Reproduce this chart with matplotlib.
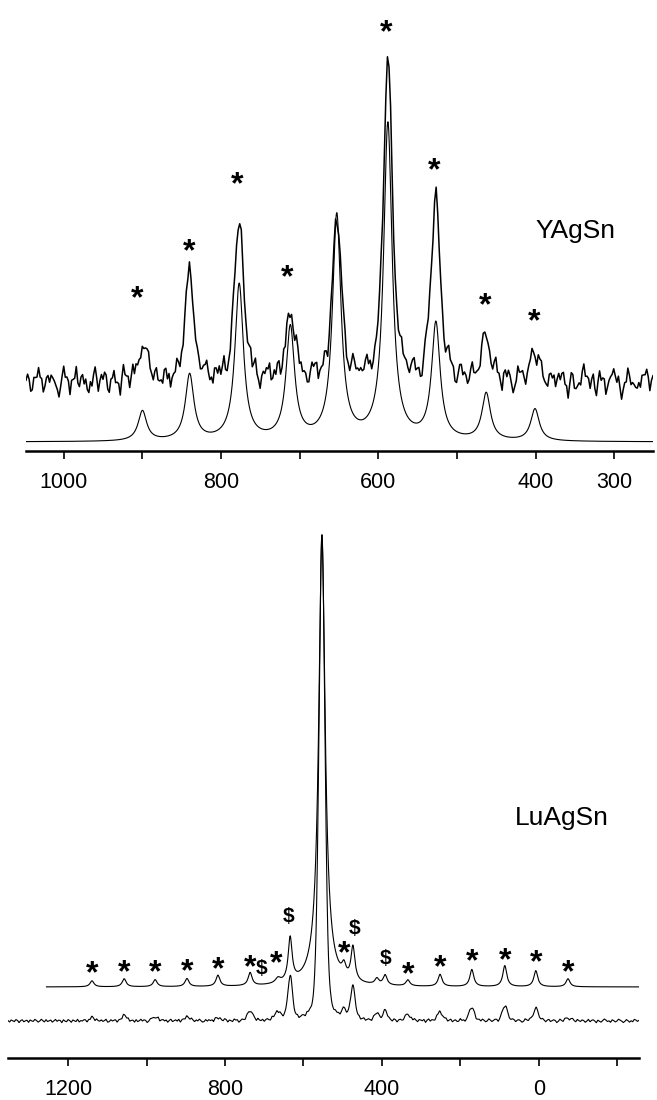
import numpy as np
import matplotlib
matplotlib.use("Agg")
import matplotlib.pyplot as plt

plt.rcParams['font.family'] = ['Liberation Sans', 'DejaVu Sans']

# ---- YAgSn (top panel): sideband positions (ppm) and heights
yag_pos = [900, 840, 777, 712, 653, 588, 527, 463, 401]
yag_sim_h = [30, 66, 156, 112, 224, 316, 116, 47, 32]
yag_exp_h = [34, 104, 160, 68, 160, 318, 180, 46, 28]
yag_sim_base = 9
yag_exp_base = 68
yag_stars_x = [907, 841, 779, 716, 590, 529, 464, 402]
yag_stars_y = [162, 209, 276, 183, 428, 290, 155, 139]
yag_ticks = [1000, 900, 800, 700, 600, 500, 400, 300]
yag_ticklabels = ['1000', '', '800', '', '600', '', '400', '300']

# ---- LuAgSn (bottom panel)
lu_pos = [1139, 1057, 978, 897, 818, 736, 665, 634, 553, 497, 474, 413, 392, 334, 252, 171, 87, 8, -74]
lu_sim_h = [6, 8, 7, 8, 11, 13, 5, 44, 448, 11, 34, 6, 10, 6, 12, 17, 21, 16, 8]
lu_sim_w = [6, 6, 6, 6, 6, 6, 8, 6, 10, 6, 6, 6, 6, 6, 6, 6, 6, 6, 6]
lu_exp_h = [3, 5, 4, 4, 3, 10, 8, 44, 486, 8, 33, 7, 9, 6, 9, 13, 15, 12, 3]
lu_exp_w = [8, 8, 8, 8, 8, 8, 10, 7, 9, 8, 7, 7, 7, 8, 8, 8, 8, 8, 8]
lu_sim_base = 71
lu_exp_base = 37
lu_stars_x = [1139, 1057, 978, 897, 818, 736, 669, 497, 334, 252, 171, 87, 8, -74]
lu_stars_y = [94, 95, 95, 96, 98, 100, 104, 114, 93, 100, 106, 107, 105, 95]
lu_dollar_x = [637, 706, 471, 392]
lu_dollar_y = [143, 91, 131, 101]
lu_ticks = [1200, 1000, 800, 600, 400, 200, 0, -200]
lu_ticklabels = ['1200', '', '800', '', '400', '', '0', '']

# baseline noise of the measured spectra (hand read, arbitrary units)
noise_a = [3, -2, 5, 8, -4, 1, -6, 2, 7, -3, -8, 0, 4, 9, -1, -5, 2, 6, -7, 1,
           -3, 5, 10, 2, -6, -2, 4, -9, 0, 6, 3, -4, 8, -1, -7, 2, 5, -3, 1, 7,
           -5, 0, 9, 4, -8, -2, 3, 6, -6, 1, 8, -3, -9, 2, 5, 0, -4, 7, 3, -6,
           2, 8, -1, -5, 4, 10, -3, -7, 1, 6, -2, 3, 9, -4, -8, 0, 5, 2, -6, 4,
           7, -1, -4, 3, 8, -7, 0, 5, -2, -9, 4, 6, 1, -5, 3, 9, -2, -6, 2, 7,
           -3, 4, 0, -8, 5, 2, -4, 8, 6, -1, -7, 3, 0, 10, -3, -5, 4, 1, -6, 7,
           2, -4, 9, 3, -2, -8, 5, 1, 7, -5, 0, 4, -3, 8, 2, -9, 6, -1, 3, 5,
           -6, 1, 8, -2, 4, -7, 0, 6, 9, -4, -1, 5, 2, -8, 3, 7, -5, 0, 4, -3,
           6, 10, -2, -6, 1, 5, -4, 3, 8, -7, -1, 4, 0, -5, 7, 2, -3, 9, 1, -8,
           0, 5, -3, 7, 2, -6, 4, 8, -2, -9, 3, 1, 6, -4, -1, 9, 5, -7, 2, 4]
noise_b = [-4, 6, 1, -7, 3, 9, -2, -5, 4, 0, 7, -8, 2, 5, -1, -6, 8, 3, -3, 1,
           6, -9, -2, 4, 8, -4, 0, 3, -6, 7, 1, -2, 9, -5, -1, 6, 2, -7, 4, -3,
           0, 8, -6, 2, 5, -1, -8, 3, 7, -4, 1, 6, -2, -9, 4, 2, 8, -5, 0, 3,
           -7, 5, 9, -3, -1, 4, -6, 2, 7, -8, 3, 0, 5, -2, 6, -4, -7, 1, 8, -1,
           4, -5, 2, 9, -3, 0, 6, -6, 1, 3, -8, 7, -2, 5, 0, -4, 8, 2, -7, 4,
           -1, 6, 3, -5, 9, -2, -6, 1, 4, 7, -3, -9, 2, 5, -1, 8, 0, -4, 6, -7,
           3, 1, -5, 7, -2, 4, 9, -6, 0, 2, -8, 5, 3, -1, 6, -4, -7, 8, 1, -3,
           5, -2, 0, 7, -6, 3, 9, -4, 1, -8, 4, 6, -1, 2, -5, 8, -3, 0, 5, -7,
           2, 7, -4, -1, 6, -9, 3, 4, -2, 8, 0, -6, 5, 1, -3, 7, -5, 2, 9, -1,
           -6, 3, 8, -2, 0, 5, -7, 4, 1, -4, 6, 2, -8, 3, 7, -3, 0, 5, -5, 2]
noise = noise_a + noise_b


def pv(x, pos, h, w, eta):
    # pseudo-voigt sum, w = half width at half max
    y = np.zeros_like(x)
    for p, a, g in zip(pos, h, w):
        lor = g ** 2 / ((x - p) ** 2 + g ** 2)
        gau = np.exp(-np.log(2) * (x - p) ** 2 / g ** 2)
        y += a * (eta * lor + (1 - eta) * gau)
    return y


fig = plt.figure(figsize=(6.57, 11), dpi=100)

# ---------------- top panel
ax1 = fig.add_axes([26 / 657, 649 / 1100, 627 / 657, 451 / 1100])
x = np.linspace(1048, 251, 3000)
sim = yag_sim_base + pv(x, yag_pos, yag_sim_h, [6.5] * len(yag_pos), 1.0)
xe = np.linspace(1048, 251, len(noise))
slow = np.interp(xe, np.linspace(251, 1048, len(noise_a)), np.array(noise_a, float))
fast = np.array(noise_b + noise_a, float)
exp = (yag_exp_base + pv(xe, yag_pos, yag_exp_h, [7] * len(yag_pos), 0.6)
       + 1.35 * slow + 0.75 * fast)
ax1.plot(x, sim, color='black', lw=0.8)
ax1.plot(xe, exp, color='black', lw=1.1)
for sx, sy in zip(yag_stars_x, yag_stars_y):
    ax1.annotate('*', (sx, sy), xytext=(0, -0.56 * 23), textcoords='offset points',
                 ha='center', va='baseline', fontsize=23, fontweight='bold')
ax1.text(400, 213, 'YAgSn', fontsize=19, ha='left', va='baseline')
ax1.set_xlim(1048, 251)
ax1.set_ylim(0, 451)
ax1.set_xticks(yag_ticks)
ax1.set_xticklabels(yag_ticklabels)

# ---------------- bottom panel
ax2 = fig.add_axes([8 / 657, 42 / 1100, 631 / 657, 568 / 1100])
x = np.linspace(1255, -255, 4000)
sim = lu_sim_base + pv(x, lu_pos, lu_sim_h, lu_sim_w, 1.0)
xe = np.linspace(1353, -255, 4000)
grid = np.linspace(-255, 1353, len(noise))
exp = (lu_exp_base + pv(xe, lu_pos, lu_exp_h, lu_exp_w, 0.3)
       + 0.2 * np.interp(xe, grid, np.array(noise, float)))
ax2.plot(x, sim, color='black', lw=0.8)
ax2.plot(xe, exp, color='black', lw=0.8)
for sx, sy in zip(lu_stars_x, lu_stars_y):
    ax2.annotate('*', (sx, sy), xytext=(0, -0.56 * 23), textcoords='offset points',
                 ha='center', va='baseline', fontsize=23, fontweight='bold')
for sx, sy in zip(lu_dollar_x, lu_dollar_y):
    ax2.annotate('$', (sx, sy), xytext=(0, -0.355 * 15), textcoords='offset points',
                 ha='center', va='baseline', fontsize=15, fontweight='bold')
ax2.text(61, 233, 'LuAgSn', fontsize=19, ha='left', va='baseline')
ax2.set_xlim(1353, -255)
ax2.set_ylim(0, 568)
ax2.set_xticks(lu_ticks)
ax2.set_xticklabels(lu_ticklabels)

for ax in (ax1, ax2):
    for s in ('left', 'right', 'top'):
        ax.spines[s].set_visible(False)
    ax.spines['bottom'].set_linewidth(1.8)
    ax.set_yticks([])
    ax.tick_params(axis='x', direction='out', length=6, width=1.2, pad=9, labelsize=15.5)
    ax.patch.set_visible(False)

fig.savefig('out.png', dpi=100)
